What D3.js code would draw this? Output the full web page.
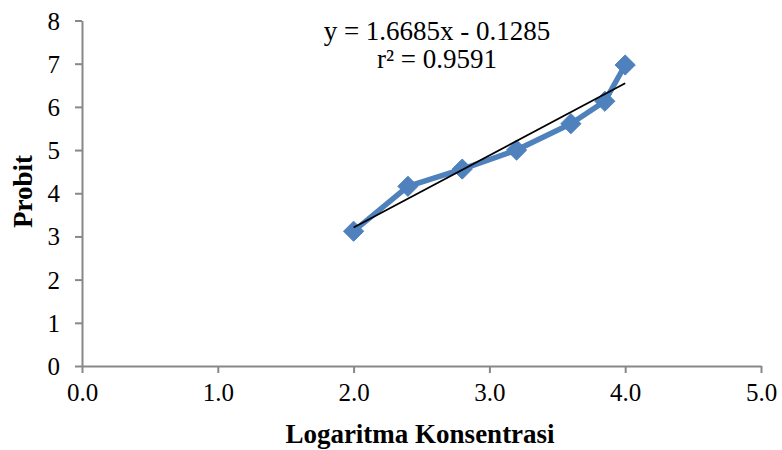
<!DOCTYPE html>
<html>
<head>
<meta charset="utf-8">
<script src="https://cdn.jsdelivr.net/npm/d3@7"></script>
<style>
  body { margin: 0; background: #fff; }
  text { font-family: "Liberation Serif", "Times New Roman", serif; }
</style>
</head>
<body>
<svg id="chart"></svg>
<script>
// data
let logConc = [2.0, 2.4, 2.8, 3.2, 3.6, 3.85, 4.0];
let probit = [3.12, 4.16, 4.56, 5.0, 5.61, 6.13, 6.97];
let xTicks = [0, 1, 2, 3, 4, 5];
let yTicks = [0, 1, 2, 3, 4, 5, 6, 7, 8];
let slope = 1.6685;
let intercept = -0.1285;
let eqLines = ["y = 1.6685x - 0.1285", "r² = 0.9591"];

function getConfig() {
  let width = 782;
  let height = 450;
  let margin = { top: 20.5, bottom: 84, left: 82, right: 21 };
  let bodyWidth = width - margin.left - margin.right;
  let bodyHeight = height - margin.top - margin.bottom;
  let container = d3.select("#chart")
    .attr("width", width)
    .attr("height", height);
  return { width, height, margin, bodyWidth, bodyHeight, container };
}

function getScales(config) {
  let { bodyWidth, bodyHeight } = config;
  let xScale = d3.scaleLinear().domain([0, 5]).range([0, bodyWidth]);
  let yScale = d3.scaleLinear().domain([0, 8]).range([bodyHeight, 0]);
  return { xScale, yScale };
}

function drawAxes(scales, config) {
  let { margin, container, bodyHeight } = config;
  let { xScale, yScale } = scales;

  let xAxis = container.append("g")
    .attr("transform", `translate(${margin.left},${margin.top + bodyHeight})`)
    .call(d3.axisBottom(xScale).tickValues(xTicks).tickFormat(d3.format(".1f"))
      .tickSizeInner(7).tickSizeOuter(0).tickPadding(10));

  let yAxis = container.append("g")
    .attr("transform", `translate(${margin.left},${margin.top})`)
    .call(d3.axisLeft(yScale).tickValues(yTicks).tickFormat(d3.format("d"))
      .tickSizeInner(7).tickSizeOuter(0).tickPadding(15));

  [xAxis, yAxis].forEach(ax => {
    ax.select(".domain").attr("stroke", "#888").attr("stroke-width", 2);
    ax.selectAll(".tick line").attr("stroke", "#888").attr("stroke-width", 2);
    ax.selectAll(".tick text")
      .attr("fill", "#000")
      .style("font-size", "25px")
      .style("font-family", "'Liberation Serif', serif");
  });
  yAxis.selectAll(".tick text").attr("dy", "0.34em");

  // axis titles
  container.append("text")
    .attr("x", 420)
    .attr("y", 443)
    .attr("text-anchor", "middle")
    .style("font-size", "27px")
    .style("font-weight", "bold")
    .text("Logaritma Konsentrasi");

  container.append("text")
    .attr("transform", `translate(32,191.5) rotate(-90)`)
    .attr("text-anchor", "middle")
    .style("font-size", "27px")
    .style("font-weight", "bold")
    .text("Probit");
}

function drawSeries(scales, config) {
  let { margin, container } = config;
  let { xScale, yScale } = scales;
  let g = container.append("g")
    .attr("transform", `translate(${margin.left},${margin.top})`);

  let pts = logConc.map((x, i) => ({ x: x, y: probit[i] }));

  g.append("path")
    .datum(pts)
    .attr("fill", "none")
    .attr("stroke", "#4f81bd")
    .attr("stroke-width", 5.5)
    .attr("stroke-linejoin", "round")
    .attr("d", d3.line().x(d => xScale(d.x)).y(d => yScale(d.y)));

  g.selectAll(".marker")
    .data(pts)
    .enter()
    .append("path")
    .attr("class", "marker")
    .attr("transform", d => `translate(${xScale(d.x)},${yScale(d.y)})`)
    .attr("d", d3.symbol().type(d3.symbolDiamond2).size(260))
    .attr("fill", "#4f81bd")
    .attr("stroke", "#4f81bd")
    .attr("stroke-width", 1);

  // linear trendline
  let x0 = d3.min(logConc), x1 = d3.max(logConc);
  g.append("line")
    .attr("x1", xScale(x0)).attr("y1", yScale(slope * x0 + intercept))
    .attr("x2", xScale(x1)).attr("y2", yScale(slope * x1 + intercept))
    .attr("stroke", "#000")
    .attr("stroke-width", 1.8);

  // equation label
  container.selectAll(".eq")
    .data(eqLines)
    .enter()
    .append("text")
    .attr("class", "eq")
    .attr("x", 437)
    .attr("y", (d, i) => 40 + i * 28)
    .attr("text-anchor", "middle")
    .style("font-size", "27px")
    .text(d => d);
}

let config = getConfig();
let scales = getScales(config);
drawAxes(scales, config);
drawSeries(scales, config);
</script>
</body>
</html>
